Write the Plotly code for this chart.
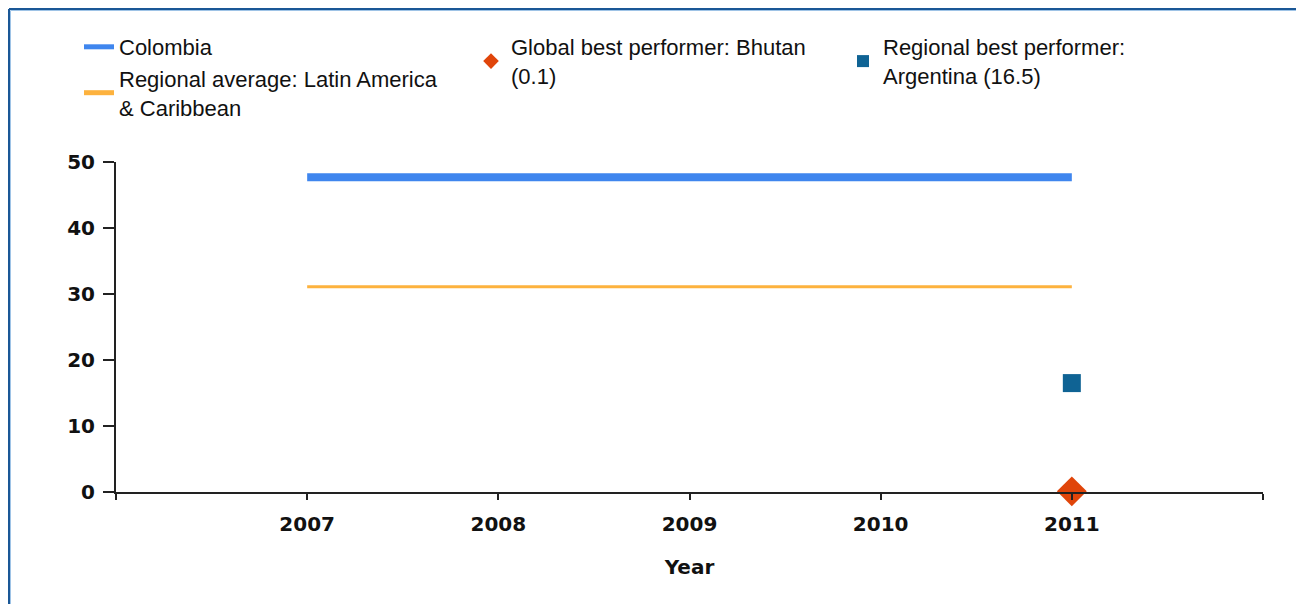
import plotly.graph_objects as go

years = [2007, 2008, 2009, 2010, 2011]
colombia = [47.7, 47.7, 47.7, 47.7, 47.7]
regional_avg = [31.1, 31.1, 31.1, 31.1, 31.1]
global_best_year = [2011]
global_best = [0.1]
regional_best_year = [2011]
regional_best = [16.5]

tick_vals = [2006, 2007, 2008, 2009, 2010, 2011, 2012]
tick_text = ["", "2007", "2008", "2009", "2010", "2011", ""]

W, H = 1304, 604
OFF = 8  # page body margin, positions below are measured on screen
L, R, T, B = 116 - OFF, 49, 162 - OFF, 120
PW, PH = W - L - R, H - T - B


def px_x(p):
    return (p - OFF - L) / PW


def px_y(p):
    return 1 - (p - OFF - T) / PH


LEG_FONT = dict(family="Liberation Sans, Arial, sans-serif", size=22, color="#111111")
TICK_FONT = dict(family="DejaVu Sans, Verdana, sans-serif", size=20, color="#111111", weight="bold")

fig = go.Figure()
fig.add_trace(go.Scatter(x=years, y=colombia, mode="lines", name="Colombia",
                         line=dict(color="#3f86ee", width=8), legend="legend"))
fig.add_trace(go.Scatter(x=years, y=regional_avg, mode="lines",
                         name="Regional average: Latin America<br>& Caribbean",
                         line=dict(color="#fdb23e", width=3), legend="legend"))
fig.add_trace(go.Scatter(x=global_best_year, y=global_best, mode="markers",
                         name="Global best performer: Bhutan<br>(0.1)",
                         marker=dict(symbol="diamond", size=23, color="#e0450a"),
                         cliponaxis=False, legend="legend2"))
fig.add_trace(go.Scatter(x=regional_best_year, y=regional_best, mode="markers",
                         name="Regional best performer:<br>Argentina (16.5)",
                         marker=dict(symbol="square", size=18, color="#0f6394"),
                         cliponaxis=False, legend="legend3"))

leg_common = dict(font=LEG_FONT, bgcolor="rgba(0,0,0,0)", yanchor="top", xanchor="left",
                  y=px_y(26), tracegroupgap=0, itemsizing="constant")

# outer frame (top and left edges only, like the original screenshot)
shapes = []
for pos, col, w in [(9, "#1a5796", 2), (10.5, "#9ec3e6", 1)]:
    shapes.append(dict(type="line", xref="paper", yref="paper",
                       x0=px_x(pos), x1=px_x(W + 20), y0=px_y(pos), y1=px_y(pos),
                       line=dict(color=col, width=w)))
    shapes.append(dict(type="line", xref="paper", yref="paper",
                       x0=px_x(pos), x1=px_x(pos), y0=px_y(pos), y1=px_y(H + 20),
                       line=dict(color=col, width=w)))

fig.update_layout(
    width=W, height=H,
    margin=dict(l=L, r=R, t=T, b=B),
    paper_bgcolor="white", plot_bgcolor="white",
    font=dict(family="DejaVu Sans, sans-serif", color="#111111"),
    legend=dict(x=px_x(79), **leg_common),
    legend2=dict(x=px_x(471), **leg_common),
    legend3=dict(x=px_x(843), **leg_common),
    xaxis=dict(range=[2006, 2012], tickvals=tick_vals, ticktext=tick_text,
               showgrid=False, zeroline=False, showline=True, linecolor="#222222", linewidth=2,
               ticks="outside", ticklen=6, tickwidth=2, tickcolor="#222222",
               tickfont=TICK_FONT, ticklabelstandoff=7,
               title=dict(text="Year", font=TICK_FONT, standoff=25)),
    yaxis=dict(range=[0, 50], tickvals=[0, 10, 20, 30, 40, 50],
               showgrid=False, zeroline=False, showline=True, linecolor="#222222", linewidth=2,
               ticks="outside", ticklen=11, tickwidth=2, tickcolor="#222222",
               tickfont=TICK_FONT, ticklabelstandoff=4),
    shapes=shapes,
    showlegend=True,
)

fig.write_html("out.html")
